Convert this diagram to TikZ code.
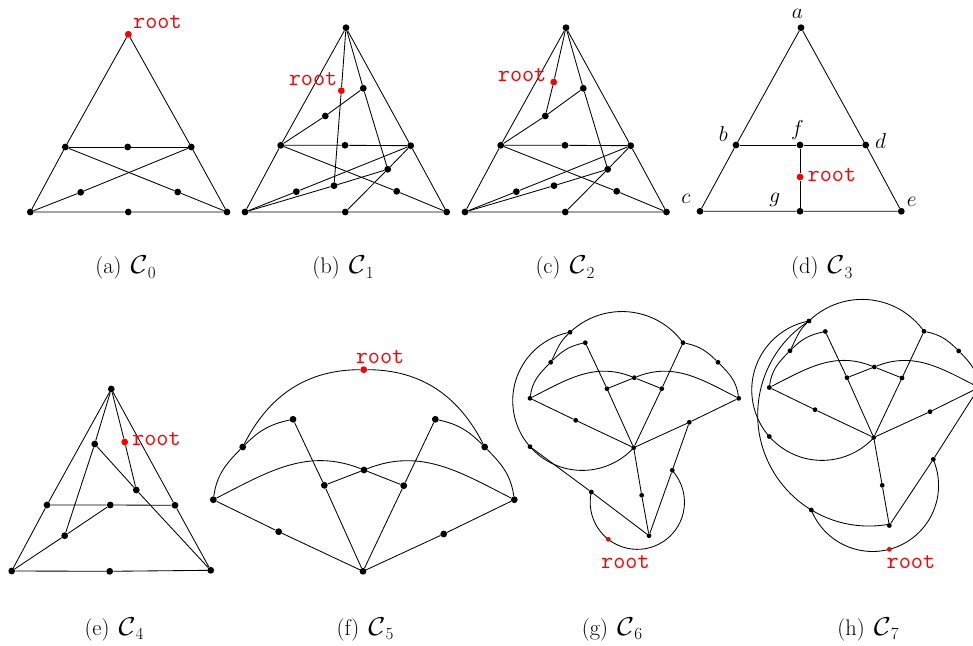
\documentclass[tikz,border=0pt]{standalone}
\usepackage{fix-cm}
\pgfdeclarelayer{bg}
\pgfsetlayers{bg,main}
\newcommand{\calC}[1]{\scalebox{1.3}[1.15]{$\mathcal{C}$}\raisebox{-4.5pt}{\fontsize{17}{19}\selectfont #1}}
\tikzset{
  vtx/.style={circle,fill=black,inner sep=0pt,minimum size=6.8pt},
  rvtx/.style={vtx,fill=red},
  svtx/.style={circle,fill=black,inner sep=0pt,minimum size=4.8pt},
  srvtx/.style={svtx,fill=red},
  ln/.style={line width=0.85pt,line join=round},
  rootlbl/.style={text=red,font=\ttfamily\fontsize{23.5}{26}\selectfont,inner sep=0pt},
  mlbl/.style={font=\fontsize{21.5}{25}\selectfont,inner sep=0pt,anchor=base},
  captxt/.style={font=\fontsize{22.5}{26}\selectfont,inner sep=0pt,anchor=base},
}
\begin{document}
\begin{tikzpicture}[x=1pt,y=1pt]
\useasboundingbox (0,0) rectangle (973,645);

% ---------- (a) ----------
\node[rvtx] (a-r) at (128.3,610.7) {};
\node[vtx] (a-b) at (65.3,498) {};
\node[vtx] (a-m) at (127.7,498) {};
\node[vtx] (a-d) at (191.3,498) {};
\node[vtx] (a-c) at (30.3,433) {};
\node[vtx] (a-g) at (128.3,433) {};
\node[vtx] (a-e) at (227,433) {};
\node[vtx] (a-u) at (80.7,452.7) {};
\node[vtx] (a-v) at (177.7,453) {};
\node[rootlbl,anchor=base west] (a-rl) at (133,616) {root};
\begin{pgfonlayer}{bg}
\draw[ln] (a-r)--(a-b)--(a-c)--(a-g)--(a-e)--(a-d)--(a-r);
\draw[ln] (a-b)--(a-m)--(a-d);
\draw[ln] (a-b)--(a-v)--(a-e);
\draw[ln] (a-d)--(a-u)--(a-c);
\end{pgfonlayer}
\node[captxt] (a-cap) at (125.5,371) {(a)\hspace{0.4em}\calC{0}};

% ---------- (b) ----------
\node[vtx] (b-t) at (346,617.3) {};
\node[rvtx] (b-rt) at (341.3,554.3) {};
\node[vtx] (b-r) at (363.3,556.7) {};
\node[vtx] (b-s) at (325.3,529) {};
\node[vtx] (b-lm) at (280.7,499.7) {};
\node[vtx] (b-mm) at (345,499.7) {};
\node[vtx] (b-rm) at (410.7,499.3) {};
\node[vtx] (b-q) at (387.7,475.7) {};
\node[vtx] (b-p) at (334,459.3) {};
\node[vtx] (b-u) at (296.3,453.3) {};
\node[vtx] (b-w) at (396.7,453.7) {};
\node[vtx] (b-bl) at (245,433) {};
\node[vtx] (b-bm) at (345.3,433) {};
\node[vtx] (b-br) at (446.7,433) {};
\node[rootlbl,anchor=base east] (b-rl) at (337.5,559) {root};
\begin{pgfonlayer}{bg}
\draw[ln] (b-t)--(b-lm)--(b-bl)--(b-bm)--(b-br)--(b-rm)--(b-t);
\draw[ln] (b-t)--(b-rt)--(b-p);
\draw[ln] (b-t)--(b-r)--(b-q);
\draw[ln] (b-r)--(b-s)--(b-lm);
\draw[ln] (b-lm)--(b-mm)--(b-rm);
\draw[ln] (b-lm)--(b-w)--(b-br);
\draw[ln] (b-rm)--(b-u)--(b-bl);
\draw[ln] (b-rm)--(b-q)--(b-bm);
\draw[ln] (b-bl)--(b-p)--(b-q);
\end{pgfonlayer}
\node[captxt] (b-cap) at (343,371) {(b)\hspace{0.4em}\calC{1}};

% ---------- (c) ----------
\node[vtx] (c-t) at (566,617.3) {};
\node[rvtx] (c-rt) at (553.7,563) {};
\node[vtx] (c-r) at (583.3,556.7) {};
\node[vtx] (c-s) at (545.3,529) {};
\node[vtx] (c-lm) at (500.7,499.7) {};
\node[vtx] (c-mm) at (565,499.7) {};
\node[vtx] (c-rm) at (630.7,499.3) {};
\node[vtx] (c-q) at (607.7,475.7) {};
\node[vtx] (c-p) at (554,459.3) {};
\node[vtx] (c-u) at (516.3,453.3) {};
\node[vtx] (c-w) at (616.7,453.7) {};
\node[vtx] (c-bl) at (465,433) {};
\node[vtx] (c-bm) at (565.3,433) {};
\node[vtx] (c-br) at (666.5,433) {};
\node[rootlbl,anchor=base east] (c-rl) at (546.5,563.3) {root};
\begin{pgfonlayer}{bg}
\draw[ln] (c-t)--(c-lm)--(c-bl)--(c-bm)--(c-br)--(c-rm)--(c-t);
\draw[ln] (c-t)--(c-rt)--(c-s);
\draw[ln] (c-t)--(c-r)--(c-q);
\draw[ln] (c-r)--(c-s)--(c-lm);
\draw[ln] (c-lm)--(c-mm)--(c-rm);
\draw[ln] (c-lm)--(c-w)--(c-br);
\draw[ln] (c-rm)--(c-u)--(c-bl);
\draw[ln] (c-rm)--(c-q)--(c-bm);
\draw[ln] (c-bl)--(c-p)--(c-q);
\end{pgfonlayer}
\node[captxt] (c-cap) at (565,371) {(c)\hspace{0.4em}\calC{2}};

% ---------- (d) ----------
\node[vtx] (d-a) at (801,617.3) {};
\node[vtx] (d-b) at (736,500) {};
\node[vtx] (d-f) at (800,500) {};
\node[vtx] (d-d) at (865.7,500) {};
\node[rvtx] (d-rt) at (800,468) {};
\node[vtx] (d-c) at (700,433.7) {};
\node[vtx] (d-g) at (800,433.7) {};
\node[vtx] (d-e) at (901.3,433.7) {};
\node[mlbl] (d-la) at (797.5,626.7) {$a$};
\node[mlbl] (d-lb) at (723.3,503.3) {$b$};
\node[mlbl] (d-lf) at (797.5,509.2) {$f$};
\node[mlbl] (d-ld) at (880.5,496.7) {$d$};
\node[mlbl] (d-lc) at (685.8,441.7) {$c$};
\node[mlbl] (d-lg) at (774.7,442.5) {$g$};
\node[mlbl] (d-le) at (911.7,438.3) {$e$};
\node[rootlbl,anchor=base west] (d-rl) at (807.5,463.5) {root};
\begin{pgfonlayer}{bg}
\draw[ln] (d-a)--(d-b)--(d-c)--(d-g)--(d-e)--(d-d)--(d-a);
\draw[ln] (d-b)--(d-f)--(d-d);
\draw[ln] (d-f)--(d-rt)--(d-g);
\end{pgfonlayer}
\node[captxt] (d-cap) at (821.7,371) {(d)\hspace{0.4em}\calC{3}};

% ---------- (e) ----------
\node[vtx] (e-t) at (111.3,256) {};
\node[vtx] (e-x1) at (94.7,201) {};
\node[rvtx] (e-rt) at (124.7,203) {};
\node[vtx] (e-x2) at (136.3,155) {};
\node[vtx] (e-lm) at (47,140) {};
\node[vtx] (e-mm) at (110.3,140) {};
\node[vtx] (e-rm) at (175,139.7) {};
\node[vtx] (e-x3) at (64.7,109.3) {};
\node[vtx] (e-bl) at (11.7,74) {};
\node[vtx] (e-bm) at (109.7,73.7) {};
\node[vtx] (e-br) at (210.7,74.7) {};
\node[rootlbl,anchor=base west] (e-rl) at (132,199.7) {root};
\begin{pgfonlayer}{bg}
\draw[ln] (e-t)--(e-lm)--(e-bl)--(e-bm)--(e-br)--(e-rm)--(e-t);
\draw[ln] (e-t)--(e-x1)--(e-x3)--(e-mm);
\draw[ln] (e-bl)--(e-x3);
\draw[ln] (e-t)--(e-rt)--(e-x2)--(e-br);
\draw[ln] (e-x1)--(e-x2);
\draw[ln] (e-lm)--(e-mm)--(e-rm);
\end{pgfonlayer}
\node[captxt] (e-cap) at (114,10) {(e)\hspace{0.4em}\calC{4}};

% ---------- (f) ----------
\node[rvtx] (f-rt) at (363.7,275.3) {};
\node[vtx] (f-L) at (213.3,145.3) {};
\node[vtx] (f-R) at (514.3,145.3) {};
\node[vtx] (f-B) at (363,73.7) {};
\node[vtx] (f-ld) at (242.7,198) {};
\node[vtx] (f-rd) at (484.7,198) {};
\node[vtx] (f-p1) at (293,225.7) {};
\node[vtx] (f-p2) at (435.3,225.7) {};
\node[vtx] (f-c) at (364,175) {};
\node[vtx] (f-m1) at (324.3,159.7) {};
\node[vtx] (f-m2) at (403.7,159.3) {};
\node[vtx] (f-lb) at (278.7,113.3) {};
\node[vtx] (f-rb) at (443.7,111) {};
\node[rootlbl,anchor=base] (f-rl) at (380,281.7) {root};
\begin{pgfonlayer}{bg}
\draw[ln] (f-L) to[out=82,in=-135] (f-ld) to[out=63,in=180] (f-rt)
          to[out=0,in=117] (f-rd) to[out=-45,in=98] (f-R);
\draw[ln] (f-ld) to[out=45,in=-168] (f-p1);
\draw[ln] (f-rd) to[out=135,in=-12] (f-p2);
\draw[ln] (f-L) to[out=27,in=158.4] (f-c);
\draw[ln] (f-R) to[out=153,in=21.6] (f-c);
\draw[ln] (f-c)--(f-m1); \draw[ln] (f-c)--(f-m2);
\draw[ln] (f-p1)--(f-m1)--(f-B);
\draw[ln] (f-p2)--(f-m2)--(f-B);
\draw[ln] (f-L)--(f-lb)--(f-B)--(f-rb)--(f-R);
\end{pgfonlayer}
\node[captxt] (f-cap) at (365,10) {(f)\hspace{0.4em}\calC{5}};

% ---------- (g) ----------
\node[svtx] (g-d1) at (570,312.7) {};
\node[svtx] (g-d2) at (585.3,302.3) {};
\node[svtx] (g-d3) at (550.7,282.7) {};
\node[svtx] (g-d4) at (683,302.3) {};
\node[svtx] (g-d5) at (718,282.7) {};
\node[svtx] (g-L) at (530,246.7) {};
\node[svtx] (g-R) at (738.7,246.7) {};
\node[svtx] (g-c) at (634.3,267.3) {};
\node[svtx] (g-m1) at (607,256.3) {};
\node[svtx] (g-m2) at (661.7,256.3) {};
\node[svtx] (g-lb) at (575.7,224.7) {};
\node[svtx] (g-rb) at (689.3,222.7) {};
\node[svtx] (g-B) at (633.7,197.3) {};
\node[svtx] (g-x1) at (530,198.3) {};
\node[svtx] (g-x2) at (591.3,153) {};
\node[svtx] (g-x3) at (672.3,174.7) {};
\node[svtx] (g-x4) at (641.7,149.7) {};
\node[svtx] (g-Z) at (649,109.3) {};
\node[srvtx] (g-rt) at (608.3,105.7) {};
\node[rootlbl,anchor=base west] (g-rl) at (601,77) {root};
\begin{pgfonlayer}{bg}
\draw[ln] (g-L) to[out=82,in=-135] (g-d3) to[out=63,in=-137] (g-d1);
\draw[ln] (g-d1.center) arc[start angle=133.6,end angle=35.9,radius=75.3];
\draw[ln] (g-d5) to[out=135,in=-12] (g-d4);
\draw[ln] (g-d5) to[out=-45,in=98] (g-R);
\draw[ln] (g-d3) to[out=45,in=-168] (g-d2);
\draw[ln] (g-L) to[out=27,in=158.4] (g-c);
\draw[ln] (g-R) to[out=153,in=21.6] (g-c);
\draw[ln] (g-c)--(g-m1); \draw[ln] (g-c)--(g-m2);
\draw[ln] (g-d2)--(g-m1)--(g-B);
\draw[ln] (g-d4)--(g-m2)--(g-B);
\draw[ln] (g-L)--(g-lb)--(g-B)--(g-rb)--(g-R);
\draw[ln] (g-d1.center) arc[start angle=100.2,end angle=317.6,radius=69.6];
\draw[ln] (g-x1)--(g-x2)--(g-Z)--(g-x4)--(g-B);
\draw[ln] (g-Z)--(g-x3)--(g-rb);
\draw[ln] (g-x2.center) arc[start angle=167.5,end angle=402.4,radius=47.15];
\end{pgfonlayer}
\node[captxt] (g-cap) at (612,10) {(g)\hspace{0.4em}\calC{6}};

% ---------- (h) ----------
\node[svtx] (h-e1) at (809,324) {};
\node[svtx] (h-e2) at (825.3,313.5) {};
\node[svtx] (h-e3) at (790,294.2) {};
\node[svtx] (h-e4) at (924,313.7) {};
\node[svtx] (h-e5) at (958.7,294) {};
\node[svtx] (h-L) at (769.3,257.5) {};
\node[svtx] (h-R) at (979,257.5) {};
\node[svtx] (h-c) at (874.3,278) {};
\node[svtx] (h-m1) at (847,267.3) {};
\node[svtx] (h-m2) at (902,267) {};
\node[svtx] (h-lb) at (815,235.3) {};
\node[svtx] (h-rb) at (930,233.3) {};
\node[svtx] (h-B) at (873.7,207.5) {};
\node[svtx] (h-x1) at (769.3,208.5) {};
\node[svtx] (h-x2) at (811.3,135) {};
\node[svtx] (h-x3) at (933.3,185.7) {};
\node[svtx] (h-x4) at (882.2,159.7) {};
\node[svtx] (h-Z) at (889.3,119.5) {};
\node[srvtx] (h-rt) at (889.3,95.7) {};
\node[rootlbl,anchor=base west] (h-rl) at (886.5,76.7) {root};
\begin{pgfonlayer}{bg}
\draw[ln] (h-L) to[out=82,in=-135] (h-e3) to[out=63,in=-137] (h-e1);
\draw[ln] (h-e1.center) arc[start angle=134.3,end angle=35.5,radius=76];
\draw[ln] (h-e5) to[out=135,in=-12] (h-e4);
\draw[ln] (h-e5) to[out=-45,in=98] (h-R);
\draw[ln] (h-e3) to[out=45,in=-168] (h-e2);
\draw[ln] (h-L) to[out=27,in=158.4] (h-c);
\draw[ln] (h-R) to[out=153,in=21.6] (h-c);
\draw[ln] (h-c)--(h-m1); \draw[ln] (h-c)--(h-m2);
\draw[ln] (h-e2)--(h-m1)--(h-B);
\draw[ln] (h-e4)--(h-m2)--(h-B);
\draw[ln] (h-L)--(h-lb)--(h-B)--(h-rb)--(h-R);
\draw[ln] (h-e1.center) arc[start angle=100.7,end angle=317.4,radius=70.3];
\draw[ln] (h-e1.center) arc[start angle=122.6,end angle=280.4,radius=111.3];
\draw[ln] (h-B)--(h-x4)--(h-Z)--(h-x3)--(h-R);
\draw[ln] (h-x2.center) arc[start angle=201.8,end angle=383.3,radius=66];
\end{pgfonlayer}
\node[captxt] (h-cap) at (868,10) {(h)\hspace{0.4em}\calC{7}};
\end{tikzpicture}
\end{document}
